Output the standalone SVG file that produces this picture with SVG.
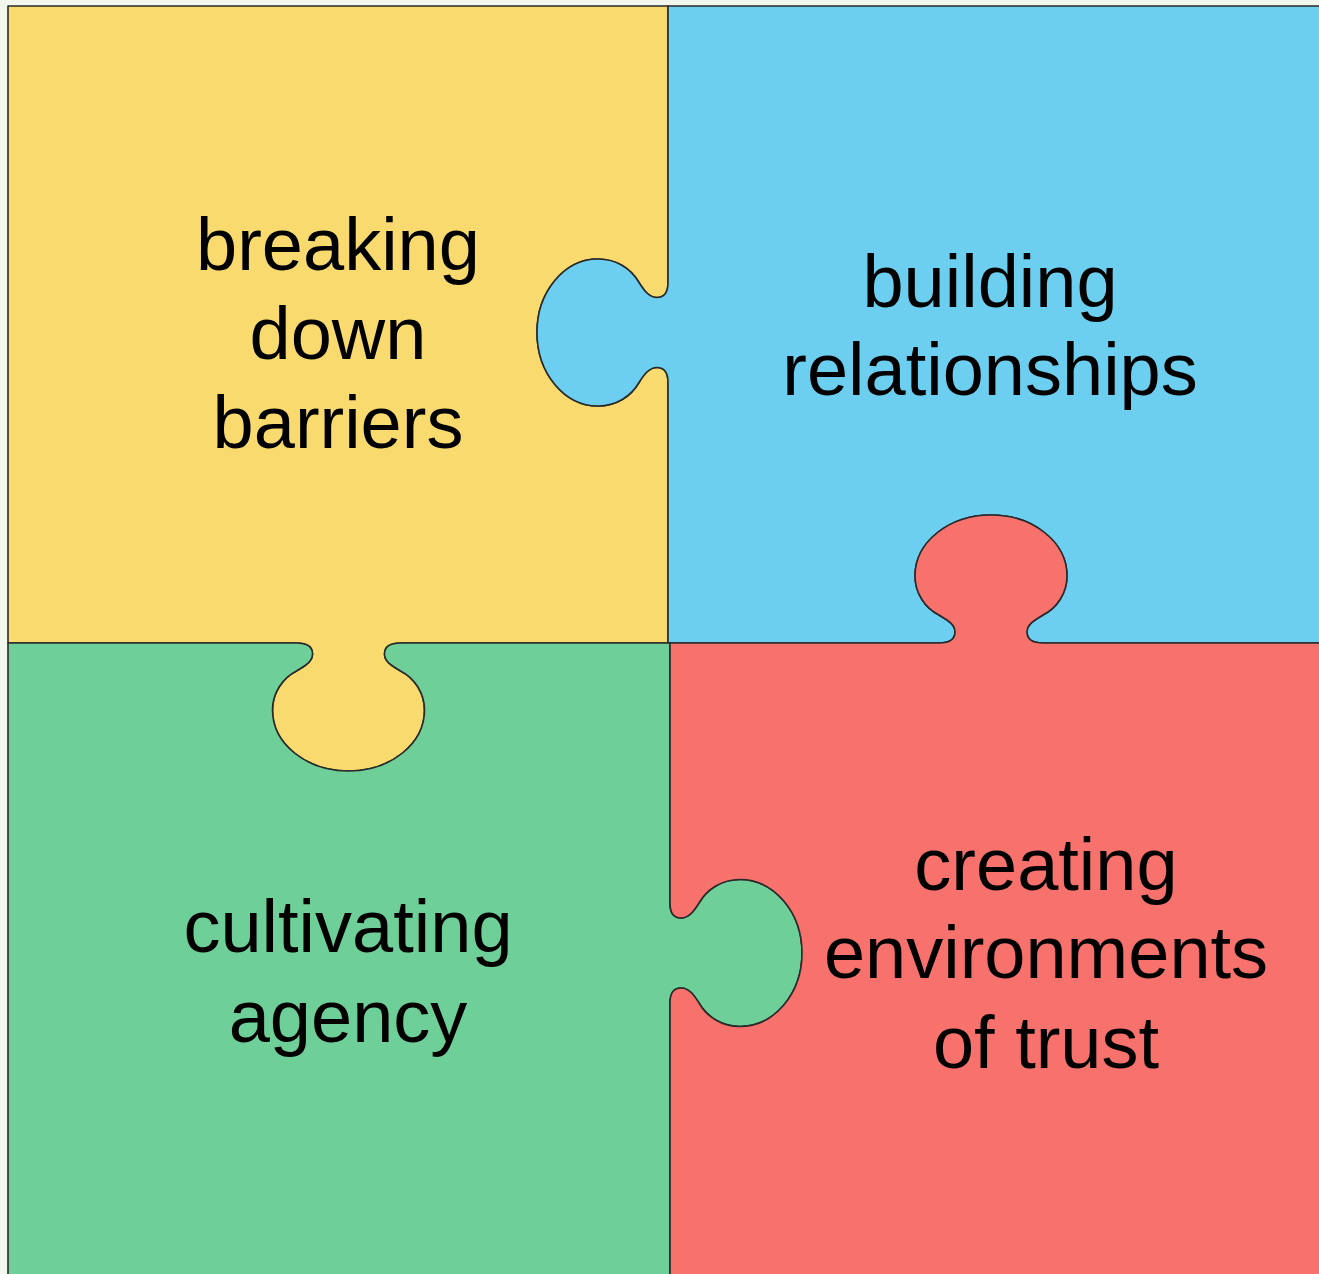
<svg xmlns="http://www.w3.org/2000/svg" width="1319" height="1274" viewBox="0 0 1319 1274">
<style>
.piece{stroke:#2a2a2a;stroke-width:1.6;stroke-linejoin:round}
.lbl{font-family:"Liberation Sans",Arial,sans-serif;font-size:74px;fill:#000;text-anchor:middle}
</style>
<rect x="0" y="0" width="1319" height="1274" fill="#F3F8EE"/>
<g id="piece-yellow">
<path class="piece" fill="#F8DA6F" d="M 8,6 L 668,6 L 668,282.5 C 668,294.5 663,297.5 657,297.5 C 649,297.5 644,290.5 639,282.5 C 631,268.5 616,259 598,259 C 564.3,259 537,291.9 537,332.5 C 537,373.1 564.3,406 598,406 C 616,406 631,396.5 639,382.5 C 644,374.5 649,367.5 657,367.5 C 663,367.5 668,370.5 668,382.5 L 668,643 L 400.5,643 C 388.5,643 384.5,648 384.5,654 C 384.5,662 392.5,666 400.5,671 C 414.5,678 424.5,693 424.5,710 C 424.5,744 390.5,771 348.5,771 C 306.5,771 272.5,744 272.5,710 C 272.5,693 282.5,678 296.5,671 C 304.5,666 312.5,662 312.5,654 C 312.5,648 308.5,643 296.5,643 L 8,643 Z"/>
<text class="lbl" x="338" y="270">breaking</text>
<text class="lbl" x="338" y="359">down</text>
<text class="lbl" x="338" y="448">barriers</text>
</g>
<g id="piece-blue">
<path class="piece" fill="#6DCFEF" d="M 668,6 L 1325,6 L 1325,643 L 1043,643 C 1031,643 1027,638 1027,632 C 1027,624 1035,620 1043,615 C 1057,608 1067,593 1067,576 C 1067,542 1033,515 991,515 C 949,515 915,542 915,576 C 915,593 925,608 939,615 C 947,620 955,624 955,632 C 955,638 951,643 939,643 L 668,643 L 668,382.5 C 668,370.5 663,367.5 657,367.5 C 649,367.5 644,374.5 639,382.5 C 631,396.5 616,406 598,406 C 564.3,406 537,373.1 537,332.5 C 537,291.9 564.3,259 598,259 C 616,259 631,268.5 639,282.5 C 644,290.5 649,297.5 657,297.5 C 663,297.5 668,294.5 668,282.5 Z"/>
<text class="lbl" x="990" y="307">building</text>
<text class="lbl" x="990" y="395">relationships</text>
</g>
<g id="piece-green">
<path class="piece" fill="#6ED098" d="M 8,643 L 296.5,643 C 308.5,643 312.5,648 312.5,654 C 312.5,662 304.5,666 296.5,671 C 282.5,678 272.5,693 272.5,710 C 272.5,744 306.5,771 348.5,771 C 390.5,771 424.5,744 424.5,710 C 424.5,693 414.5,678 400.5,671 C 392.5,666 384.5,662 384.5,654 C 384.5,648 388.5,643 400.5,643 L 670,643 L 670,903 C 670,915 675,918 681,918 C 689,918 694,911 699,903 C 707,889 722,879.5 740,879.5 C 774.2,879.5 802,912.4 802,953 C 802,993.6 774.2,1026.5 740,1026.5 C 722,1026.5 707,1017 699,1003 C 694,995 689,988 681,988 C 675,988 670,991 670,1003 L 670,1280 L 8,1280 Z"/>
<text class="lbl" x="348" y="952">cultivating</text>
<text class="lbl" x="348" y="1042">agency</text>
</g>
<g id="piece-red">
<path class="piece" fill="#F7716D" d="M 670,643 L 939,643 C 951,643 955,638 955,632 C 955,624 947,620 939,615 C 925,608 915,593 915,576 C 915,542 949,515 991,515 C 1033,515 1067,542 1067,576 C 1067,593 1057,608 1043,615 C 1035,620 1027,624 1027,632 C 1027,638 1031,643 1043,643 L 1325,643 L 1325,1280 L 670,1280 L 670,1003 C 670,991 675,988 681,988 C 689,988 694,995 699,1003 C 707,1017 722,1026.5 740,1026.5 C 774.2,1026.5 802,993.6 802,953 C 802,912.4 774.2,879.5 740,879.5 C 722,879.5 707,889 699,903 C 694,911 689,918 681,918 C 675,918 670,915 670,903 Z"/>
<text class="lbl" x="1046" y="890">creating</text>
<text class="lbl" x="1046" y="978">environments</text>
<text class="lbl" x="1046" y="1068">of trust</text>
</g>
</svg>
